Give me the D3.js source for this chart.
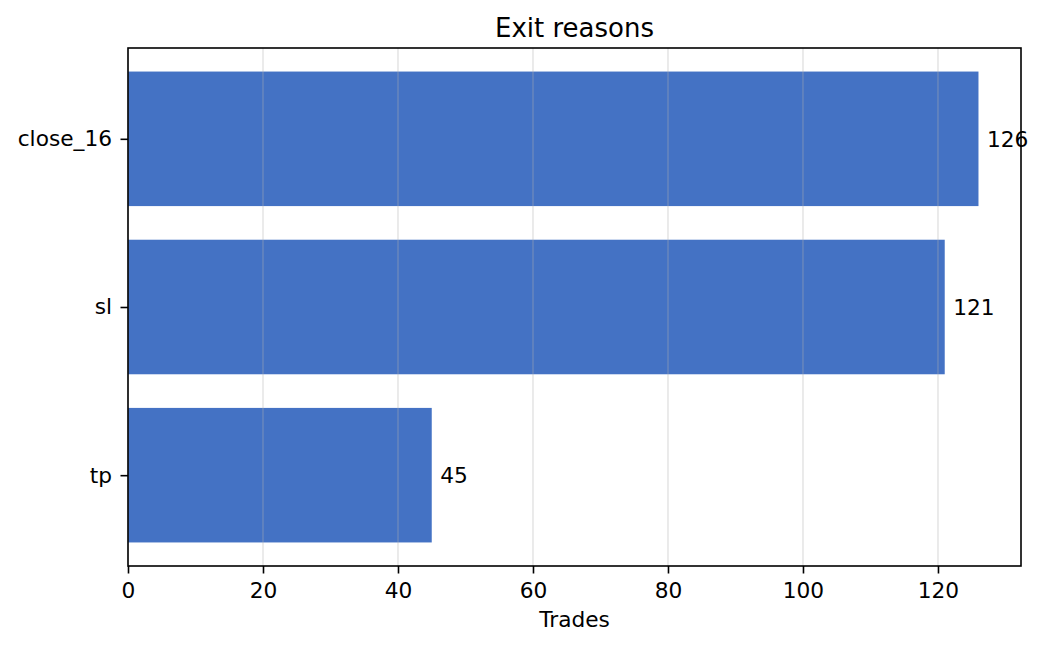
<!DOCTYPE html>
<html>
<head>
<meta charset="utf-8">
<script src="https://cdn.jsdelivr.net/npm/d3@7"></script>
<style>
  body { margin: 0; background: #fff; }
  svg { font-family: "DejaVu Sans", sans-serif; }
</style>
</head>
<body>
<div id="chart"></div>
<script>
// Data
const reasons = ["close_16", "sl", "tp"];
const trades = [126, 121, 45];
const xTicks = [0, 20, 40, 60, 80, 100, 120];

const width = 1043, height = 647;
const margin = { top: 48, right: 22, bottom: 81, left: 128 };
const plotW = width - margin.left - margin.right;
const plotH = height - margin.top - margin.bottom;
const fontSize = "21.7px";

const svg = d3.select("#chart")
    .append("svg")
    .attr("width", width)
    .attr("height", height);

const g = svg.append("g")
    .attr("transform", `translate(${margin.left},${margin.top})`);

// x: 5% margin on the max, like matplotlib
const xScale = d3.scaleLinear()
    .domain([0, d3.max(trades) * 1.05])
    .range([0, plotW]);

// y: categorical positions, bar height 0.8, 5% margins
const n = reasons.length;
const yPos = d3.scaleLinear()
    .domain([-0.4 - 0.05 * (n - 0.2), n - 0.6 + 0.05 * (n - 0.2)])
    .range([0, plotH]);

const data = reasons.map((r, i) => ({ reason: r, value: trades[i], idx: i }));

// bars
g.selectAll(".bar")
    .data(data)
    .enter()
    .append("rect")
    .attr("class", "bar")
    .attr("x", xScale(0))
    .attr("y", d => yPos(d.idx - 0.4))
    .attr("width", d => xScale(d.value) - xScale(0))
    .attr("height", d => yPos(d.idx + 0.4) - yPos(d.idx - 0.4))
    .attr("fill", "#4472C4");

// vertical grid, drawn over the bars
g.selectAll(".grid")
    .data(xTicks)
    .enter()
    .append("line")
    .attr("x1", d => xScale(d))
    .attr("x2", d => xScale(d))
    .attr("y1", 0)
    .attr("y2", plotH)
    .attr("stroke", "#b0b0b0")
    .attr("stroke-opacity", 0.3)
    .attr("stroke-width", 1.7);

// value labels
g.selectAll(".val")
    .data(data)
    .enter()
    .append("text")
    .attr("x", d => xScale(d.value) + 8.5)
    .attr("y", d => yPos(d.idx))
    .attr("dy", "0.36em")
    .style("font-size", fontSize)
    .text(d => d.value);

// frame
g.append("rect")
    .attr("width", plotW)
    .attr("height", plotH)
    .attr("fill", "none")
    .attr("stroke", "#000")
    .attr("stroke-width", 1.6);

// x axis
const xAxis = g.append("g")
    .attr("transform", `translate(0,${plotH})`)
    .call(d3.axisBottom(xScale).tickValues(xTicks).tickSize(7.5).tickPadding(9).tickFormat(d3.format("d")));
xAxis.select(".domain").remove();
xAxis.selectAll("line").attr("stroke", "#000").attr("stroke-width", 1.6);
xAxis.selectAll("text").style("font-size", fontSize).style("font-family", "DejaVu Sans").attr("fill", "#000");

// y axis
const yAxis = g.append("g")
    .call(d3.axisLeft(yPos).tickValues(d3.range(n)).tickSize(7.5).tickPadding(8.5).tickFormat(i => reasons[i]));
yAxis.select(".domain").remove();
yAxis.selectAll("line").attr("stroke", "#000").attr("stroke-width", 1.6);
yAxis.selectAll("text").style("font-size", fontSize).style("font-family", "DejaVu Sans").attr("fill", "#000");

// title
svg.append("text")
    .attr("x", margin.left + plotW / 2)
    .attr("y", 37)
    .attr("text-anchor", "middle")
    .style("font-size", "26px")
    .text("Exit reasons");

// x label
svg.append("text")
    .attr("x", margin.left + plotW / 2)
    .attr("y", 627)
    .attr("text-anchor", "middle")
    .style("font-size", fontSize)
    .text("Trades");
</script>
</body>
</html>
